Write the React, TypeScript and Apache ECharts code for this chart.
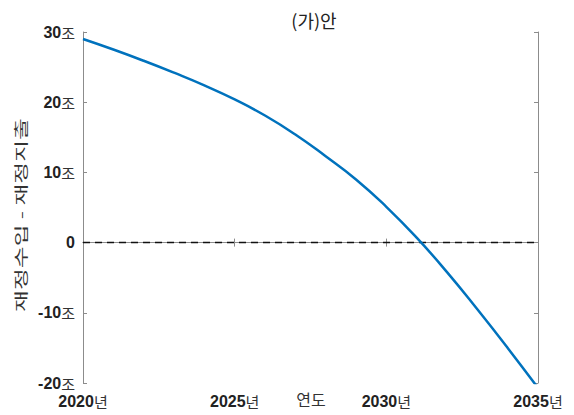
import React, { useEffect, useRef } from "react";
import * as echarts from "echarts";

// Fiscal balance (revenue minus expenditure), trillion won, by year
const years = [2020, 2021, 2022, 2023, 2024, 2025, 2026, 2027, 2028, 2029, 2030, 2031, 2032, 2033, 2034, 2035];
const balance = [29.0, 27.5, 25.9, 24.2, 22.4, 20.4, 18.1, 15.4, 12.3, 9.0, 5.1, 0.7, -4.2, -9.5, -15.0, -20.7];
const zeroLine = [[2020, 0], [2035, 0]];

const titleText = "(가)안";
const xName = "연도";
const yName = "재정수입 - 재정지출";
const yUnit = "조";
const xUnit = "년";

const KR = "'Noto Sans CJK KR', 'Noto Sans', sans-serif";
const NUM = "'Liberation Sans', Arial, sans-serif";
const axisGray = "#8c8c8c";

export default function App() {
  const ref = useRef<HTMLDivElement>(null);

  useEffect(() => {
    if (!ref.current) return;
    const chart = echarts.init(ref.current, null, { renderer: "svg" });

    const rich = {
      n: { fontFamily: NUM, fontWeight: "bold", fontSize: 16, color: "#222" },
      u: { fontFamily: KR, fontWeight: "normal", fontSize: 15, color: "#333" },
    };

    chart.setOption({
      animation: false,
      backgroundColor: "#fff",
      title: {
        text: titleText,
        left: 309,
        textAlign: "center",
        top: 6,
        textStyle: { fontFamily: KR, fontSize: 18, fontWeight: "normal", color: "#222" },
      },
      grid: { left: 83, right: 36, top: 32, bottom: 32, containLabel: false },
      graphic: [
        {
          type: "text",
          x: 20,
          y: 215,
          rotation: Math.PI / 2,
          scaleX: 1.7,
          style: {
            text: yName,
            font: `normal 14px ${KR}`,
            fill: "#333",
            align: "center",
            verticalAlign: "middle",
          },
        },
        {
          type: "text",
          x: 311,
          y: 399,
          style: {
            text: xName,
            font: `normal 16px ${KR}`,
            fill: "#333",
            align: "center",
            verticalAlign: "middle",
          },
        },
      ],
      xAxis: [
        {
          type: "value",
          min: 2020,
          max: 2035,
          interval: 5,
          position: "bottom",
          axisLine: { lineStyle: { color: axisGray, width: 1 } },
          axisTick: { inside: true, length: 4, lineStyle: { color: axisGray } },
          splitLine: { show: false },
          axisLabel: {
            margin: 10,
            formatter: (v: number) => `{n|${v}}{u|${xUnit}}`,
            rich,
          },
        },
        {
          type: "value",
          min: 2020,
          max: 2035,
          interval: 5,
          position: "top",
          axisLine: { show: true, lineStyle: { color: axisGray, width: 1 } },
          axisTick: { inside: true, length: 4, lineStyle: { color: axisGray } },
          axisLabel: { show: false },
          splitLine: { show: false },
        },
      ],
      yAxis: [
        {
          type: "value",
          min: -20,
          max: 30,
          interval: 10,
          position: "left",
          axisLine: { show: true, lineStyle: { color: axisGray, width: 1 } },
          axisTick: { inside: true, length: 4, lineStyle: { color: axisGray } },
          splitLine: { show: false },
          axisLabel: {
            margin: 8,
            formatter: (v: number) => (v === 0 ? `{n|0}` : `{n|${v}}{u|${yUnit}}`),
            rich,
          },
        },
        {
          type: "value",
          min: -20,
          max: 30,
          interval: 10,
          position: "right",
          axisLine: { show: true, lineStyle: { color: axisGray, width: 1 } },
          axisTick: { inside: true, length: 4, lineStyle: { color: axisGray } },
          axisLabel: { show: false },
          splitLine: { show: false },
        },
      ],
      series: [
        {
          type: "line",
          data: zeroLine,
          symbol: "none",
          lineStyle: { color: "#111", width: 1.5, type: [7, 5] },
          silent: true,
        },
        {
          type: "line",
          data: years.map((y, i) => [y, balance[i]]),
          smooth: 0.5,
          symbol: "none",
          clip: true,
          lineStyle: { color: "#0072BD", width: 2.5 },
        },
      ],
    });

    return () => chart.dispose();
  }, []);

  return (
    <div
      ref={ref}
      style={{ position: "absolute", left: 0, top: 0, width: 574, height: 415 }}
    />
  );
}
